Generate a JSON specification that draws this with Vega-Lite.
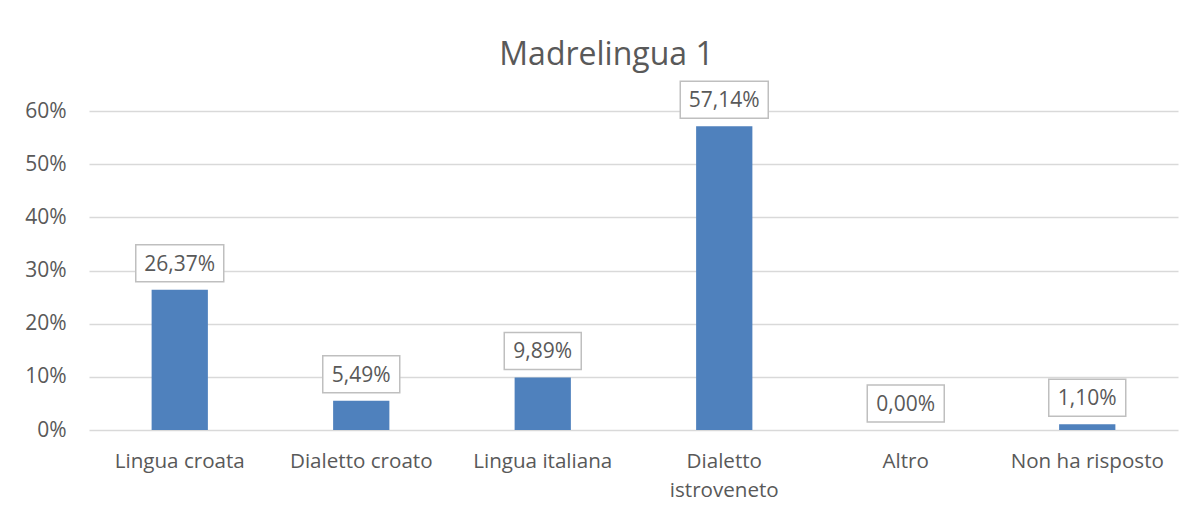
{
  "$schema": "https://vega.github.io/schema/vega-lite/v6.json",
  "autosize": {"type": "none"},
  "width": 1089,
  "height": 319,
  "padding": {"left": 89, "top": 111, "right": 22, "bottom": 85},
  "background": "white",
  "title": {
    "text": "Madrelingua 1",
    "font": "Open Sans",
    "fontSize": 32,
    "fontWeight": "normal",
    "color": "#595959",
    "anchor": "middle",
    "baseline": "bottom",
    "offset": 36,
    "dx": -27,
    "dy": 60
  },
  "config": {
    "locale": {
      "number": {"decimal": ",", "thousands": ".", "grouping": [3], "currency": ["", " €"]}
    },
    "view": {"stroke": null},
    "font": "Open Sans"
  },
  "data": {
    "values": [
      {"categoria": "Lingua croata", "valore": 0.2637},
      {"categoria": "Dialetto croato", "valore": 0.0549},
      {"categoria": "Lingua italiana", "valore": 0.0989},
      {"categoria": "Dialetto istroveneto", "valore": 0.5714},
      {"categoria": "Altro", "valore": 0.0},
      {"categoria": "Non ha risposto", "valore": 0.011}
    ]
  },
  "encoding": {
    "x": {
      "field": "categoria",
      "type": "nominal",
      "sort": null,
      "scale": {"paddingInner": 0.69, "paddingOuter": 0.345},
      "axis": {
        "title": null,
        "domain": false,
        "ticks": false,
        "labelAngle": 0,
        "labelFont": "Open Sans",
        "labelFontSize": 20.6,
        "labelColor": "#595959",
        "labelPadding": 21,
        "labelLineHeight": 29,
        "labelExpr": "datum.label == 'Dialetto istroveneto' ? ['Dialetto', 'istroveneto'] : datum.label"
      }
    },
    "y": {
      "field": "valore",
      "type": "quantitative",
      "scale": {"domain": [0, 0.6], "nice": false},
      "axis": {
        "title": null,
        "format": ".0%",
        "values": [0, 0.1, 0.2, 0.3, 0.4, 0.5, 0.6],
        "domain": false,
        "ticks": false,
        "labelFont": "Open Sans",
        "labelFontSize": 21,
        "labelColor": "#595959",
        "labelPadding": 23,
        "gridColor": "#D9D9D9",
        "gridWidth": 1.3
      }
    }
  },
  "layer": [
    {
      "mark": {"type": "bar", "color": "#4F81BD"}
    },
    {
      "transform": [{"filter": "datum.valore >= 0.1"}],
      "mark": {"type": "bar", "width": 88, "fill": "white", "stroke": "#BFBFBF", "strokeWidth": 1.5, "yOffset": -8, "y2Offset": -45},
      "encoding": {
        "y2": {"field": "valore"}
      }
    },
    {
      "transform": [{"filter": "datum.valore < 0.1"}],
      "mark": {"type": "bar", "width": 77, "fill": "white", "stroke": "#BFBFBF", "strokeWidth": 1.5, "yOffset": -8, "y2Offset": -45},
      "encoding": {
        "y2": {"field": "valore"}
      }
    },
    {
      "mark": {"type": "text", "font": "Open Sans", "fontSize": 21, "color": "#595959", "baseline": "alphabetic", "dy": -19},
      "encoding": {
        "text": {"field": "valore", "type": "quantitative", "format": ".2%"}
      }
    }
  ]
}
